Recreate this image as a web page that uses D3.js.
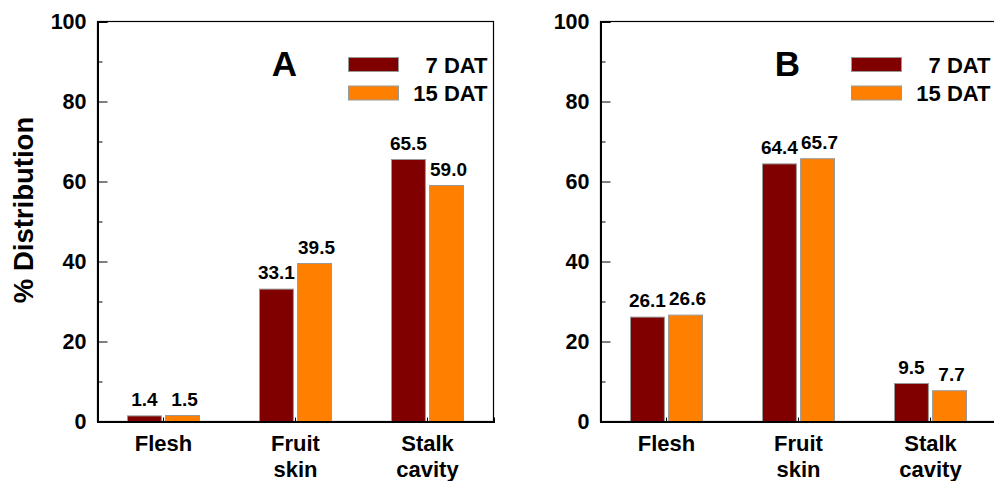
<!DOCTYPE html>
<html>
<head>
<meta charset="utf-8">
<script src="https://cdn.jsdelivr.net/npm/d3@7"></script>
<style>
body { margin: 0; background: #fff; }
svg { display: block; font-family: "Liberation Sans", Arial, sans-serif; font-weight: bold; }
</style>
</head>
<body>
<script>
const categories = ['Flesh', 'Fruit skin', 'Stalk cavity'];
const seriesNames = ['7 DAT', '15 DAT'];
const panelLetters = ['A', 'B'];
const valuesA7 = [1.4, 33.1, 65.5];
const valuesA15 = [1.5, 39.5, 59.0];
const valuesB7 = [26.1, 64.4, 9.5];
const valuesB15 = [26.6, 65.7, 7.7];
const majorTicks = [0, 20, 40, 60, 80, 100];
const minorTicks = [10, 30, 50, 70, 90];
const colors = ['#800000', '#ff8000'];

const W = 994, H = 481;
const svg = d3.select('body').append('svg')
    .attr('width', W)
    .attr('height', H);

const y = d3.scaleLinear().domain([0, 100]).range([421.5, 21.5]);

function panel(x0, letter, vals)
{
    const g = svg.append('g');
    const x = d3.scaleBand().domain(categories).range([x0, x0 + 396]);
    const sub = d3.scaleBand().domain(seriesNames).range([0, 72]).paddingInner(0.11);

    // frame
    g.append('rect')
        .attr('x', x0).attr('y', y(100))
        .attr('width', 396).attr('height', y(0) - y(100))
        .attr('fill', 'none').attr('stroke', '#000').attr('stroke-width', 1.2);

    // bars + value labels
    categories.forEach((c, i) => {
        seriesNames.forEach((s, j) => {
            const v = vals[j][i];
            const bx = x(c) + x.bandwidth() / 2 - 36 + sub(s);
            g.append('rect')
                .attr('x', bx).attr('y', y(v))
                .attr('width', sub.bandwidth()).attr('height', y(0) - y(v))
                .attr('fill', colors[j]).attr('stroke', '#999').attr('stroke-width', 1);
            g.append('text')
                .attr('x', bx + sub.bandwidth() / 2 + j * 2).attr('y', y(v) - 10)
                .attr('text-anchor', 'middle').attr('font-size', 19)
                .text(v.toFixed(1));
        });
    });

    // y axis
    const ax = g.append('g').attr('transform', `translate(${x0},0)`)
        .call(d3.axisLeft(y).tickValues(majorTicks).tickSize(-10).tickPadding(11));
    ax.attr('font-family', null).attr('font-size', null);
    ax.select('.domain').attr('stroke-width', 2);
    ax.selectAll('text').attr('font-size', 21.5).attr('fill', '#000');
    g.append('g').attr('transform', `translate(${x0},0)`)
        .call(d3.axisLeft(y).tickValues(minorTicks).tickSize(-5).tickFormat(''))
        .select('.domain').remove();

    // x axis
    const bx = g.append('g').attr('transform', `translate(0,${y(0)})`)
        .call(d3.axisBottom(x).tickSize(-4).tickFormat(''));
    bx.select('.domain').attr('stroke-width', 2);
    categories.forEach(c => {
        c.split(' ').forEach((w, k) => {
            g.append('text')
                .attr('x', x(c) + x.bandwidth() / 2).attr('y', 451 + k * 25.5)
                .attr('text-anchor', 'middle').attr('font-size', 22)
                .text(w);
        });
    });

    // panel letter
    g.append('text')
        .attr('x', x0 + 187).attr('y', 76)
        .attr('text-anchor', 'middle').attr('font-size', 35)
        .text(letter);

    // legend
    seriesNames.forEach((s, j) => {
        g.append('rect')
            .attr('x', x0 + 251).attr('y', 57.5 + j * 28.5)
            .attr('width', 50).attr('height', 14)
            .attr('fill', colors[j]).attr('stroke', '#999').attr('stroke-width', 1);
        g.append('text')
            .attr('x', x0 + 390).attr('y', 73 + j * 28)
            .attr('text-anchor', 'end').attr('font-size', 22)
            .text(s);
    });
}

panel(97.5, panelLetters[0], [valuesA7, valuesA15]);
panel(600.5, panelLetters[1], [valuesB7, valuesB15]);

svg.append('text')
    .attr('transform', 'translate(33,210) rotate(-90)')
    .attr('text-anchor', 'middle').attr('font-size', 27.5)
    .text('% Distribution');
</script>
</body>
</html>
